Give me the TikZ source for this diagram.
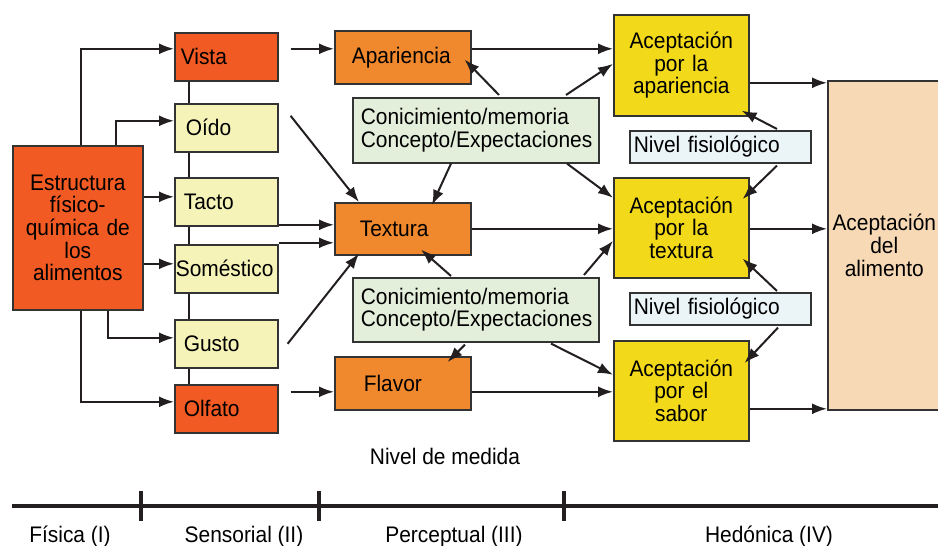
\documentclass[tikz,border=0pt]{standalone}
\usepackage{fontspec}
\setmainfont{Liberation Sans}[FakeStretch=0.93]
\usetikzlibrary{arrows.meta}
\definecolor{cRed}{HTML}{F15A22}
\definecolor{cPale}{HTML}{F5F3B7}
\definecolor{cOrange}{HTML}{F0882D}
\definecolor{cGreen}{HTML}{E4EFDB}
\definecolor{cYellow}{HTML}{F2D91A}
\definecolor{cBlue}{HTML}{EBF4F7}
\definecolor{cPeach}{HTML}{F7DAB5}
\definecolor{bdr}{HTML}{333333}
\definecolor{lin}{HTML}{231F20}
\newcommand{\myfont}{\fontsize{22.5}{22.6}\selectfont}
\begin{document}
\begin{tikzpicture}[x=1pt,y=-1pt,
  box/.style={draw=bdr, line width=1.6pt, inner ysep=0pt, anchor=north west, font=\myfont},
  lbox/.style 2 args={box, minimum width=#1, text width=#1-2*#2, inner xsep=#2, align=left},
  cbox/.style={box, inner xsep=0pt, text width=#1, align=center},
  arr/.style={draw=lin, line width=2pt, -{Latex[length=15pt,width=11pt]}},
  ln/.style={draw=lin, line width=2pt},
  lbl/.style={font=\myfont, inner sep=0pt}]
\useasboundingbox (0,0) rectangle (938,546);
\clip (0,0) rectangle (938,546);

% physical
\node[cbox=130pt, fill=cRed, minimum height=164pt] (estr) at (12,145) {Estructura\\físico-\\química de\\los\\alimentos};

% sensorial
\node[lbox={103pt}{6pt}, fill=cRed, minimum height=48pt] (vista) at (174,32) {Vista};
\node[lbox={103pt}{11pt}, fill=cPale, minimum height=48pt] (oido) at (174,103) {Oído};
\node[lbox={103pt}{9pt}, fill=cPale, minimum height=48pt] (tacto) at (174,177) {Tacto};
\node[lbox={103pt}{1pt}, fill=cPale, minimum height=48pt] (soma) at (174,244) {Soméstico};
\node[lbox={103pt}{9pt}, fill=cPale, minimum height=48pt] (gusto) at (174,319) {Gusto};
\node[lbox={103pt}{9pt}, fill=cRed, minimum height=48pt] (olfato) at (174,384) {Olfato};

% perceptual
\node[lbox={136pt}{17pt}, fill=cOrange, minimum height=53pt] (apar) at (334,30) {Apariencia};
\node[lbox={136pt}{25pt}, fill=cOrange, minimum height=52pt] (textura) at (334,202) {Textura};
\node[lbox={136pt}{29pt}, fill=cOrange, minimum height=53pt] (flavor) at (334,356) {Flavor};
\node[lbox={246pt}{8pt}, fill=cGreen, minimum height=65pt] (cm1) at (352,97) {Conicimiento/memoria\\Concepto/Expectaciones};
\node[lbox={246pt}{8pt}, fill=cGreen, minimum height=64pt] (cm2) at (352,277) {Conicimiento/memoria\\Concepto/Expectaciones};

% hedonic
\node[cbox=135pt, fill=cYellow, minimum height=101pt] (acap) at (613,14) {Aceptación\\por la\\apariencia\\[-8pt]};
\node[cbox=135pt, fill=cYellow, minimum height=100pt] (actex) at (613,177) {Aceptación\\por la\\textura};
\node[cbox=135pt, fill=cYellow, minimum height=100pt] (acsab) at (613,340) {Aceptación\\por el\\sabor};
\node[lbox={181pt}{4pt}, fill=cBlue, minimum height=32pt] (nf1) at (629,130) {Nivel fisiológico};
\node[lbox={181pt}{4pt}, fill=cBlue, minimum height=32pt] (nf2) at (629,292) {Nivel fisiológico};
\node[cbox=113pt, fill=cPeach, minimum height=329pt] (alim) at (827,80) {Aceptación\\del\\alimento};

% sense chain
\draw[ln] ([xshift=15pt]vista.south west) -- ([xshift=15pt]oido.north west);
\draw[ln] ([xshift=15pt]oido.south west) -- ([xshift=15pt]tacto.north west);
\draw[ln] ([xshift=15pt]tacto.south west) -- ([xshift=15pt]soma.north west);
\draw[ln] ([xshift=15pt]soma.south west) -- ([xshift=15pt]gusto.north west);
\draw[ln] ([xshift=15pt]gusto.south west) -- ([xshift=15pt]olfato.north west);

% structure -> senses
\draw[arr] ([xshift=69pt]estr.north west) |- ([yshift=8pt]vista.west);
\draw[arr] ([xshift=104pt]estr.north west) |- ([yshift=7pt]oido.west);
\draw[arr] ([yshift=5pt]tacto.west -| estr.east) -- ([yshift=5pt]tacto.west);
\draw[arr] ([yshift=5pt]soma.west -| estr.east) -- ([yshift=5pt]soma.west);
\draw[arr] ([xshift=96pt]estr.south west) |- ([yshift=6pt]gusto.west);
\draw[arr] ([xshift=69pt]estr.south west) |- ([yshift=7pt]olfato.west);

% senses -> perceptual
\draw[arr] ([xshift=12pt,yshift=8pt]vista.east) -- ([yshift=8.5pt]apar.west);
\draw[arr] ([xshift=12pt,yshift=12pt]oido.east) -- ([xshift=25pt]textura.north west);
\draw[arr] ([yshift=4pt]textura.west -| tacto.east) -- ([yshift=4pt]textura.west);
\draw[arr] ([yshift=-14pt]textura.west -| soma.east) -- ([yshift=-14pt]textura.west);
\draw[arr] ([xshift=9pt]gusto.east) -- ([xshift=25pt,yshift=2pt]textura.south west);
\draw[arr] ([xshift=12pt,yshift=17pt]olfato.east) -- ([yshift=-8.5pt]flavor.west);

% knowledge boxes
\draw[arr] ([xshift=147pt,yshift=2pt]cm1.north west) -- ([xshift=-7pt,yshift=25pt]apar.south east);
\draw[arr] ([xshift=214pt,yshift=2pt]cm1.north west) -- ([yshift=1.5pt]acap.west);
\draw[arr] ([xshift=99pt]cm1.south west) -- ([xshift=98pt,yshift=-3pt]textura.north west);
\draw[arr] ([xshift=215pt]cm1.south west) -- ([yshift=30pt]actex.west);
\draw[arr] ([xshift=99pt,yshift=1pt]cm2.north west) -- ([xshift=87pt,yshift=6pt]textura.south west);
\draw[arr] ([xshift=232pt,yshift=2pt]cm2.north west) -- ([yshift=-13pt]actex.west);
\draw[arr] ([xshift=113pt,yshift=-2pt]cm2.south west) -- ([xshift=-24pt,yshift=-6pt]flavor.north east);
\draw[arr] ([xshift=199pt,yshift=-1pt]cm2.south west) -- ([yshift=16pt]acsab.west);

% perceptual -> hedonic
\draw[arr] ([yshift=8.5pt]apar.east) -- ([yshift=16.5pt]acap.west);
\draw[arr] (textura.east) -- (actex.west |- textura.east);
\draw[arr] ([yshift=-8.5pt]flavor.east) -- ([yshift=-1pt]acsab.west);

% physiological
\draw[arr] ([xshift=148pt,yshift=1pt]nf1.north west) -- ([xshift=-8pt,yshift=6pt]acap.south east);
\draw[arr] ([xshift=148pt,yshift=-2pt]nf1.south west) -- ([xshift=-7pt,yshift=-22pt]actex.north east);
\draw[arr] ([xshift=148pt,yshift=1pt]nf2.north west) -- ([xshift=-7pt,yshift=20pt]actex.south east);
\draw[arr] ([xshift=149pt,yshift=-2pt]nf2.south west) -- ([xshift=-5pt,yshift=-23pt]acsab.north east);

% hedonic -> food acceptance
\draw[arr] ([yshift=-17.5pt]acap.east) -- ([yshift=-17.5pt]acap.east -| alim.west);
\draw[arr] ([yshift=-1pt]actex.east) -- ([yshift=-1pt]actex.east -| alim.west);
\draw[arr] ([yshift=-18pt]acsab.east) -- ([yshift=-18pt]acsab.east -| alim.west);

% measurement axis
\node[lbl] (nivel) at (445,456) {Nivel de medida};
\draw[draw=lin, line width=4.5pt] (12,506) -- (938,506);
\foreach \tx in {141,319,564} \draw[draw=lin, line width=3.5pt] (\tx,491) -- (\tx,521);
\node[lbl] (fis) at (70,537) {Física (I)};
\node[lbl] (sen) at (244,537) {Sensorial (II)};
\node[lbl] (per) at (454,537) {Perceptual (III)};
\node[lbl] (hed) at (769,537) {Hedónica (IV)};
\end{tikzpicture}
\end{document}
